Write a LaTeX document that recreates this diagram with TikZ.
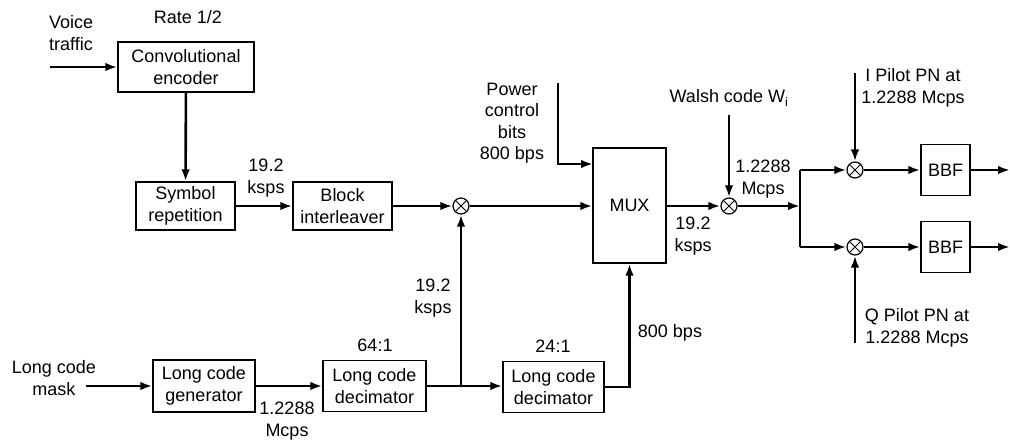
\documentclass[tikz,border=0pt]{standalone}
\usepackage{fontspec}
\setmainfont{Liberation Sans}
\usetikzlibrary{arrows.meta}
\begin{document}
\begin{tikzpicture}[x=1pt,y=-1pt,
  every node/.style={font=\fontsize{18}{21.5}\selectfont, inner sep=0pt},
  blockbox/.style={draw, line width=1.3pt, align=center},
  mult/.style={draw, circle, line width=1.2pt, minimum size=16pt,
    path picture={\draw[line width=1pt] (path picture bounding box.north west)--(path picture bounding box.south east)
      (path picture bounding box.north east)--(path picture bounding box.south west);}},
  conn/.style={line width=2.6pt},
  arr/.style={conn, -{Latex[length=12pt,width=8.5pt]}},
  lbl/.style={align=center}]
\useasboundingbox (0,0) rectangle (1010,443);
% blocks
\node[blockbox, minimum width=136pt, minimum height=50pt] (conv) at (186,67) {Convolutional\\encoder};
\node[blockbox, minimum width=99pt, minimum height=48pt] (sym) at (185.5,206) {Symbol\\repetition};
\node[blockbox, minimum width=99pt, minimum height=48pt] (blk) at (342.5,206) {Block\\interleaver};
\node[mult] (m1) at (461,206) {};
\node[blockbox, minimum width=73pt, minimum height=115pt] (mux) at (629.5,205.5) {MUX};
\node[mult] (m2) at (729,206) {};
\coordinate (split) at (800,206);
\node[mult] (mI) at (855,170) {};
\node[mult] (mQ) at (855,247) {};
\node[blockbox, minimum width=49pt, minimum height=51pt] (bbfI) at (945.5,170) {BBF};
\node[blockbox, minimum width=49pt, minimum height=51pt] (bbfQ) at (945.5,247) {BBF};
\node[blockbox, minimum width=102pt, minimum height=52pt] (gen) at (204,386) {Long code\\generator};
\node[blockbox, minimum width=103pt, minimum height=51pt] (dec1) at (374.5,386) {Long code\\decimator};
\node[blockbox, minimum width=101pt, minimum height=51pt] (dec2) at (553.5,387) {Long code\\decimator};
\coordinate (j) at (461,386);
% free ends
\coordinate (vin) at (50,67);
\coordinate (lin) at (86,386);
\coordinate (pctop) at (558,83);
\coordinate (pcin) at (593,164);
\coordinate (wtop) at (729,115);
\coordinate (ptop) at (855,73);
\coordinate (qbot) at (855,343);
\coordinate (oI) at (1010,170);
\coordinate (oQ) at (1010,247);
% connectors
\draw[arr] (vin) -- (conv.west |- vin);
\draw[arr] (conv) -- (sym);
\draw[arr] (sym) -- (blk);
\draw[arr] (blk) -- (m1);
\draw[arr] (m1) -- (mux.west |- m1);
\draw[arr] (pctop) |- (pcin);
\draw[arr] (mux.east |- m2) -- (m2);
\draw[arr] (wtop) -- (m2);
\draw[arr] (m2) -- (split);
\draw[conn] (split |- mI) -- (split |- mQ);
\draw[arr] (split |- mI) -- (mI);
\draw[arr] (split |- mQ) -- (mQ);
\draw[arr] (ptop) -- (mI);
\draw[arr] (qbot) -- (mQ);
\draw[arr] (mI) -- (bbfI);
\draw[arr] (mQ) -- (bbfQ);
\draw[arr] (bbfI) -- (oI);
\draw[arr] (bbfQ) -- (oQ);
\draw[arr] (lin) -- (gen);
\draw[arr] (gen) -- (dec1);
\draw[conn] (dec1) -- (j);
\draw[arr] (j) -- (dec2.west |- j);
\draw[arr] (j) -- (m1);
\draw[arr] (dec2.east) -| (mux.south);
% labels
\node[lbl, align=left, anchor=west] (lvoice) at (49,33) {Voice\\traffic};
\node[lbl] (lrate) at (188,17) {Rate 1/2};
\node[lbl] (lsps1) at (266,178) {19.2\\ksps};
\node[lbl] (lpc) at (512,123) {Power\\control\\bits\\800 bps};
\node[lbl] (lwalsh) at (729,98) {Walsh code W$_{\mathrm{i}}$};
\node[lbl] (lmc1) at (763,179) {1.2288\\Mcps};
\node[lbl] (lsps2) at (693,236) {19.2\\ksps};
\node[lbl] (lip) at (913,88) {I Pilot PN at\\1.2288 Mcps};
\node[lbl] (lqp) at (917,328) {Q Pilot PN at\\1.2288 Mcps};
\node[lbl] (lmask) at (54,378) {Long code\\mask};
\node[lbl] (lmc2) at (287,421) {1.2288\\Mcps};
\node[lbl] (l64) at (375,345) {64:1};
\node[lbl] (lsps3) at (433,298) {19.2\\ksps};
\node[lbl] (l24) at (553,346) {24:1};
\node[lbl] (l800) at (670,333) {800 bps};
\end{tikzpicture}
\end{document}
